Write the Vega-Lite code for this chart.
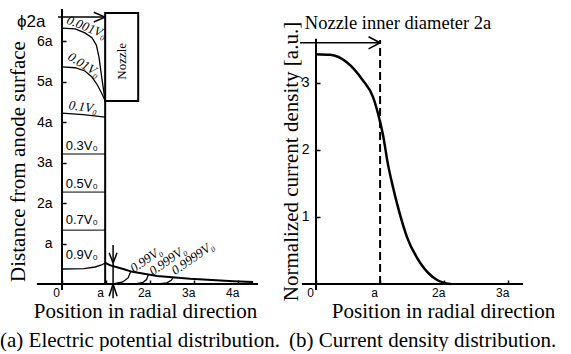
{
  "$schema": "https://vega.github.io/schema/vega-lite/v6.json",
  "autosize": {"type": "pad"},
  "padding": {"left": 0, "top": 7, "right": 0, "bottom": 0},
  "bounds": "flush",
  "spacing": 58,
  "config": {
    "view": {"stroke": null},
    "font": "Liberation Serif",
    "axis": {
      "domain": false, "grid": false, "ticks": true, "tickSize": -4, "tickWidth": 1.5, "tickColor": "black",
      "labelFont": "Liberation Sans", "labelFontSize": 12, "labelColor": "black", "labelFlush": false, "labelOverlap": false,
      "titleFont": "Liberation Serif", "titleFontSize": 21, "titleFontWeight": "normal", "titleColor": "black",
      "titleBaseline": "middle", "titleAlign": "center", "titleLimit": 1000
    },
    "title": {"font": "Liberation Serif", "fontSize": 21, "fontWeight": "normal", "color": "black"}
  },
  "datasets": {
    "leftRules": [
      {"kind": "axis", "x": -0.57, "y": 0, "x2": 4.45, "y2": 0},
      {"kind": "axis", "x": 0, "y": -0.15, "x2": 0, "y2": 6.79},
      {"kind": "axis", "x": 0.98, "y": 0, "x2": 0.98, "y2": 4.52},
      {"kind": "arrow", "x": -0.09, "y": 6.59, "x2": 0.98, "y2": 6.59},
      {"kind": "arrow", "x": 0.72, "y": 6.71, "x2": 0.98, "y2": 6.59},
      {"kind": "arrow", "x": 0.72, "y": 6.47, "x2": 0.98, "y2": 6.59},
      {"kind": "arrow", "x": 1.16, "y": 0.96, "x2": 1.16, "y2": -0.35},
      {"kind": "arrow", "x": 1.07, "y": 0.77, "x2": 1.16, "y2": 0.52},
      {"kind": "arrow", "x": 1.25, "y": 0.77, "x2": 1.16, "y2": 0.52},
      {"kind": "arrow", "x": 1.07, "y": -0.3, "x2": 1.16, "y2": 0},
      {"kind": "arrow", "x": 1.25, "y": -0.3, "x2": 1.16, "y2": 0},
      {"kind": "contour", "x": 0, "y": 3.21, "x2": 0.98, "y2": 3.21},
      {"kind": "contour", "x": 0, "y": 2.27, "x2": 0.98, "y2": 2.27},
      {"kind": "contour", "x": 0, "y": 1.33, "x2": 0.98, "y2": 1.33}
    ],
    "nozzle": [{"x": 0.98, "x2": 1.73, "y": 4.52, "y2": 6.69}],
    "nozzleLabel": [{"t": "Nozzle", "x": 1.37, "y": 5.5}],
    "leftContours": [
      {"c": "0.001", "x": 0, "y": 6.32}, {"c": "0.001", "x": 0.3, "y": 6.3}, {"c": "0.001", "x": 0.52, "y": 6.2},
      {"c": "0.001", "x": 0.68, "y": 6.08}, {"c": "0.001", "x": 0.78, "y": 5.9}, {"c": "0.001", "x": 0.84, "y": 5.6},
      {"c": "0.001", "x": 0.91, "y": 5.04}, {"c": "0.001", "x": 0.98, "y": 4.52},
      {"c": "0.01", "x": 0, "y": 5.36}, {"c": "0.01", "x": 0.3, "y": 5.34}, {"c": "0.01", "x": 0.52, "y": 5.26},
      {"c": "0.01", "x": 0.68, "y": 5.11}, {"c": "0.01", "x": 0.8, "y": 4.92}, {"c": "0.01", "x": 0.91, "y": 4.69},
      {"c": "0.01", "x": 0.98, "y": 4.52},
      {"c": "0.1", "x": 0, "y": 4.22}, {"c": "0.1", "x": 0.48, "y": 4.18}, {"c": "0.1", "x": 0.98, "y": 4.12},
      {"c": "0.9", "x": 0, "y": 0.37}, {"c": "0.9", "x": 0.5, "y": 0.38}, {"c": "0.9", "x": 0.75, "y": 0.42},
      {"c": "0.9", "x": 0.9, "y": 0.47}, {"c": "0.9", "x": 0.98, "y": 0.52},
      {"c": "0.99", "x": 1.16, "y": 0}, {"c": "0.99", "x": 1.38, "y": 0.05}, {"c": "0.99", "x": 1.5, "y": 0.15}, {"c": "0.99", "x": 1.56, "y": 0.31},
      {"c": "0.999", "x": 1.66, "y": 0}, {"c": "0.999", "x": 1.84, "y": 0.04}, {"c": "0.999", "x": 1.92, "y": 0.11}, {"c": "0.999", "x": 1.96, "y": 0.23},
      {"c": "0.9999", "x": 2.18, "y": 0}, {"c": "0.9999", "x": 2.38, "y": 0.03}, {"c": "0.9999", "x": 2.48, "y": 0.09}, {"c": "0.9999", "x": 2.53, "y": 0.17}
    ],
    "edge": [
      {"x": 0.98, "y": 0.52}, {"x": 1.1, "y": 0.46}, {"x": 1.39, "y": 0.37}, {"x": 1.6, "y": 0.3},
      {"x": 2.16, "y": 0.2}, {"x": 2.91, "y": 0.13}, {"x": 3.89, "y": 0.07}, {"x": 4.34, "y": 0.05}
    ],
    "labA": [{"t": "0.001V₀", "x": 0.56, "y": 6.34}],
    "labB": [{"t": "0.01V₀", "x": 0.5, "y": 5.41}],
    "labC": [{"t": "0.1V₀", "x": 0.48, "y": 4.37}],
    "labD": [
      {"t": "0.99V₀", "x": 1.91, "y": 0.6},
      {"t": "0.999V₀", "x": 2.4, "y": 0.58},
      {"t": "0.9999V₀", "x": 2.97, "y": 0.64}
    ],
    "labUp": [
      {"t": "0.3V₀", "x": 0.45, "y": 3.41},
      {"t": "0.5V₀", "x": 0.45, "y": 2.47},
      {"t": "0.7V₀", "x": 0.45, "y": 1.58},
      {"t": "0.9V₀", "x": 0.45, "y": 0.72}
    ],
    "phi": [{"t": "ϕ2a", "x": -0.7, "y": 6.47}],
    "rightRules": [
      {"kind": "axis", "x": -0.22, "y": 0, "x2": 3.23, "y2": 0},
      {"kind": "axis", "x": 0, "y": -0.09, "x2": 0, "y2": 3.66},
      {"kind": "arrow", "x": -0.25, "y": 3.6, "x2": 1.0, "y2": 3.6},
      {"kind": "arrow", "x": 0.82, "y": 3.69, "x2": 1.0, "y2": 3.6},
      {"kind": "arrow", "x": 0.82, "y": 3.51, "x2": 1.0, "y2": 3.6}
    ],
    "rightDash": [{"x": 1.0, "y": 0, "y2": 3.64}],
    "current": [
      {"x": 0, "y": 3.43}, {"x": 0.22, "y": 3.42}, {"x": 0.48, "y": 3.31}, {"x": 0.73, "y": 3.04},
      {"x": 0.89, "y": 2.79}, {"x": 1.0, "y": 2.42}, {"x": 1.05, "y": 2.2}, {"x": 1.12, "y": 1.8},
      {"x": 1.2, "y": 1.45}, {"x": 1.27, "y": 1.18}, {"x": 1.42, "y": 0.7}, {"x": 1.63, "y": 0.31},
      {"x": 1.89, "y": 0.06}, {"x": 2.1, "y": 0.0}
    ],
    "rightNote": [{"t": "Nozzle inner diameter 2a", "x": 1.28, "y": 3.9}]
  },
  "hconcat": [
    {
      "width": 196,
      "height": 277,
      "title": {"text": "(a) Electric potential distribution.", "orient": "bottom", "anchor": "start", "frame": "group", "dx": -62, "offset": 9},
      "encoding": {
        "x": {"field": "x", "type": "quantitative", "scale": {"domain": [0, 4.45], "nice": false, "zero": false},
          "axis": {"values": [0, 1, 2, 3, 4], "labelExpr": "datum.value == 0 ? '0' : datum.value == 1 ? 'a' : datum.value + 'a'",
            "labelPadding": 7, "labelOffset": -6, "title": "Position in radial direction", "titleX": 83, "titleY": 27}},
        "y": {"field": "y", "type": "quantitative", "scale": {"domain": [0, 6.84], "nice": false, "zero": false},
          "axis": {"values": [1, 2, 3, 4, 5, 6], "labelExpr": "datum.value == 1 ? 'a' : datum.value + 'a'", "labelFontSize": 14,
            "labelPadding": 14, "title": "Distance from anode surface", "titleX": -44, "titleY": 154, "titleAngle": -90}}
      },
      "layer": [
        {
          "data": {"name": "leftRules"},
          "mark": {"type": "rule", "color": "black"},
          "encoding": {
            "x2": {"field": "x2"},
            "y2": {"field": "y2"},
            "strokeWidth": {"field": "kind", "type": "nominal", "scale": {"domain": ["axis", "arrow", "contour"], "range": [2, 1, 1.3]}, "legend": null}
          }
        },
        {
          "data": {"name": "nozzle"},
          "mark": {"type": "rect", "fill": "white", "stroke": "black", "strokeWidth": 2},
          "encoding": {"x2": {"field": "x2"}, "y2": {"field": "y2"}}
        },
        {
          "data": {"name": "nozzleLabel"},
          "mark": {"type": "text", "angle": 270, "font": "Liberation Serif", "fontSize": 13, "color": "black", "align": "center", "baseline": "middle"},
          "encoding": {"text": {"field": "t"}}
        },
        {
          "data": {"name": "leftContours"},
          "mark": {"type": "line", "color": "black", "strokeWidth": 1.3},
          "encoding": {"detail": {"field": "c"}}
        },
        {
          "data": {"name": "edge"},
          "mark": {"type": "line", "color": "black", "strokeWidth": 2}
        },
        {
          "data": {"name": "labA"},
          "mark": {"type": "text", "angle": 22, "font": "Liberation Serif", "fontStyle": "italic", "fontSize": 13, "color": "black"},
          "encoding": {"text": {"field": "t"}}
        },
        {
          "data": {"name": "labB"},
          "mark": {"type": "text", "angle": 32, "font": "Liberation Serif", "fontStyle": "italic", "fontSize": 13, "color": "black"},
          "encoding": {"text": {"field": "t"}}
        },
        {
          "data": {"name": "labC"},
          "mark": {"type": "text", "angle": 8, "font": "Liberation Serif", "fontStyle": "italic", "fontSize": 13, "color": "black"},
          "encoding": {"text": {"field": "t"}}
        },
        {
          "data": {"name": "labD"},
          "mark": {"type": "text", "angle": -35, "font": "Liberation Serif", "fontStyle": "italic", "fontSize": 13, "color": "black"},
          "encoding": {"text": {"field": "t"}}
        },
        {
          "data": {"name": "labUp"},
          "mark": {"type": "text", "font": "Liberation Sans", "fontSize": 13, "color": "black"},
          "encoding": {"text": {"field": "t"}}
        },
        {
          "data": {"name": "phi"},
          "mark": {"type": "text", "font": "Liberation Sans", "fontSize": 17, "color": "black"},
          "encoding": {"text": {"field": "t"}}
        }
      ]
    },
    {
      "width": 207,
      "height": 277,
      "title": {"text": "(b) Current density distribution.", "orient": "bottom", "anchor": "start", "frame": "group", "dx": -27, "offset": 9},
      "encoding": {
        "x": {"field": "x", "type": "quantitative", "scale": {"domain": [0, 3.23], "nice": false, "zero": false},
          "axis": {"values": [0, 1, 2, 3], "labelExpr": "datum.value == 0 ? '0' : datum.value == 1 ? 'a' : datum.value + 'a'",
            "labelPadding": 7, "labelOffset": -6, "title": "Position in radial direction", "titleX": 127, "titleY": 27}},
        "y": {"field": "y", "type": "quantitative", "scale": {"domain": [0, 4.134], "nice": false, "zero": false},
          "axis": {"values": [1, 2, 3], "labelFontSize": 14, "labelPadding": 11, "title": "Normalized current density [a.u.]", "titleX": -25, "titleY": 154, "titleAngle": -90}}
      },
      "layer": [
        {
          "data": {"name": "rightRules"},
          "mark": {"type": "rule", "color": "black"},
          "encoding": {
            "x2": {"field": "x2"},
            "y2": {"field": "y2"},
            "strokeWidth": {"field": "kind", "type": "nominal", "scale": {"domain": ["axis", "arrow"], "range": [2, 1]}, "legend": null}
          }
        },
        {
          "data": {"name": "rightDash"},
          "mark": {"type": "rule", "color": "black", "strokeWidth": 2, "strokeDash": [8, 4]},
          "encoding": {"y2": {"field": "y2"}}
        },
        {
          "data": {"name": "current"},
          "mark": {"type": "line", "color": "black", "strokeWidth": 2.5, "interpolate": "monotone"}
        },
        {
          "data": {"name": "rightNote"},
          "mark": {"type": "text", "font": "Liberation Serif", "fontSize": 18.5, "color": "black"},
          "encoding": {"text": {"field": "t"}}
        }
      ]
    }
  ]
}
